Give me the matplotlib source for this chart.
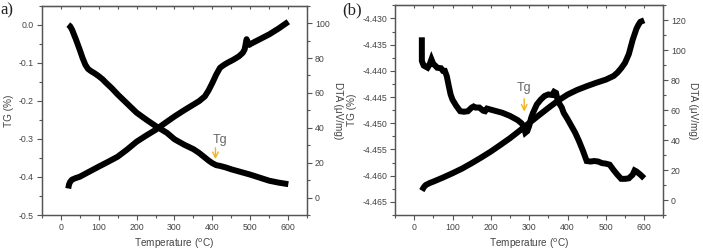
import matplotlib
matplotlib.use("Agg")
import matplotlib.pyplot as plt
from matplotlib.ticker import MultipleLocator, FormatStrFormatter

# ---------------- data ----------------
# Panel a
a_tg_T = [20, 25, 30, 40, 50, 58, 65, 72, 80, 90, 100, 110, 120, 135, 150, 175, 200, 225,
          250, 265, 280, 300, 325, 350, 365, 380, 390, 400, 410, 420, 435, 450, 475, 500,
          525, 550, 575, 600]
a_tg = [0.0, -0.004, -0.013, -0.038, -0.065, -0.088, -0.105, -0.116, -0.122, -0.128, -0.135,
        -0.143, -0.153, -0.167, -0.183, -0.207, -0.231, -0.249, -0.266, -0.275, -0.284,
        -0.301, -0.315, -0.327, -0.337, -0.349, -0.357, -0.364, -0.369, -0.371, -0.375,
        -0.380, -0.387, -0.394, -0.402, -0.410, -0.415, -0.419]
a_dta_T = [20, 22, 25, 30, 40, 50, 75, 100, 125, 150, 175, 200, 225, 250, 275, 300, 325, 350,
           365, 380, 390, 400, 410, 420, 430, 440, 455, 470, 480, 485, 488, 490, 493, 497,
           500, 525, 550, 575, 600]
a_dta = [5.2, 7.5, 9.0, 10.3, 11.2, 11.9, 14.8, 17.7, 20.5, 23.4, 27.5, 32.0, 35.5, 38.8,
         42.7, 46.5, 50.0, 53.3, 55.3, 58.0, 61.5, 65.8, 70.5, 74.4, 76.0, 77.3, 79.0, 81.0,
         83.0, 85.0, 88.5, 90.8, 89.0, 87.5, 88.0, 90.8, 93.6, 97.0, 100.8]

# Panel b
b_tg_T = [20, 20, 22, 25, 30, 35, 40, 45, 50, 55, 60, 70, 75, 80, 85, 90, 95, 100, 110, 120,
          130, 140, 150, 155, 160, 170, 180, 185, 190, 200, 215, 230, 250, 260, 270, 280,
          285, 290, 295, 300, 305, 310, 320, 330, 340, 350, 360, 365, 370, 375, 385, 390,
          400, 410, 420, 430, 440, 450, 460, 470, 480, 490, 500, 510, 520, 530, 540, 550,
          560, 570, 575, 580, 585, 590, 600]
b_tg = [-4.4336, -4.4381, -4.4385, -4.4390, -4.4392, -4.4394, -4.4388, -4.4378, -4.4387,
        -4.4390, -4.4394, -4.4395, -4.4400, -4.4400, -4.4410, -4.4428, -4.4445, -4.4455,
        -4.4467, -4.4477, -4.4478, -4.4477, -4.4470, -4.4468, -4.4470, -4.4470, -4.4476,
        -4.4477, -4.4472, -4.4474, -4.4477, -4.4480, -4.4486, -4.4490, -4.4494, -4.4500,
        -4.4505, -4.4518, -4.4515, -4.4505, -4.4490, -4.4480, -4.4464, -4.4455, -4.4448,
        -4.4445, -4.4446, -4.4440, -4.4442, -4.4458, -4.4470, -4.4480, -4.4492, -4.4505,
        -4.4518, -4.4534, -4.4552, -4.4572, -4.4573, -4.4572, -4.4573, -4.4576, -4.4577,
        -4.4579, -4.4589, -4.4598, -4.4606, -4.4606, -4.4605, -4.4598, -4.4590, -4.4592,
        -4.4595, -4.4598, -4.4605]
b_dta_T = [20, 25, 30, 40, 50, 75, 100, 125, 150, 175, 200, 225, 250, 275, 300, 325, 350,
           375, 400, 425, 450, 475, 500, 520, 530, 540, 550, 560, 570, 580, 585, 590, 600]
b_dta = [6.3, 8.5, 10.0, 11.3, 12.3, 15.0, 17.9, 21.0, 24.6, 28.4, 32.4, 36.8, 41.3, 46.3,
         51.4, 56.5, 61.5, 66.3, 70.4, 73.5, 76.0, 78.3, 80.4, 82.8, 85.0, 88.0, 91.6, 97.5,
         107.0, 114.5, 117.0, 119.0, 120.0]

x_ticks = [0, 100, 200, 300, 400, 500, 600]
panel_labels = ["a)", "(b)"]
x_label = "Temperature ($^{\\rm o}$C)"
tg_label = "TG (%)"
dta_label = "DTA (\u03bcV/mg)"

# ---------------- style ----------------
plt.rcParams['font.family'] = ['Liberation Sans', 'DejaVu Sans']
TXT = '#444444'
SP = '#555555'
LW = 4.3
ORANGE = '#f2b320'
TICKFS = 6.3
LABFS = 7.2

fig = plt.figure(figsize=(7.03, 2.52), dpi=100)

axa = fig.add_axes([0.0593, 0.1468, 0.3778, 0.8306])
axb = fig.add_axes([0.5619, 0.1468, 0.3817, 0.8320])


def style(ax, ax2, ymaj, ymin, ymaj2, ymin2, yfmt):
    for a in (ax, ax2):
        for s in a.spines.values():
            s.set_color(SP)
            s.set_linewidth(0.9)
    ax.set_xlim(-50, 650)
    ax.set_xticks(x_ticks)
    ax.xaxis.set_minor_locator(MultipleLocator(50))
    ax.yaxis.set_major_locator(MultipleLocator(ymaj))
    ax.yaxis.set_minor_locator(MultipleLocator(ymin))
    ax.yaxis.set_major_formatter(FormatStrFormatter(yfmt))
    ax2.yaxis.set_major_locator(MultipleLocator(ymaj2))
    ax2.yaxis.set_minor_locator(MultipleLocator(ymin2))
    ax.tick_params(axis='both', which='major', direction='out', length=3.5, width=0.8,
                   color=SP, labelcolor=TXT, labelsize=TICKFS, pad=2)
    ax.tick_params(axis='both', which='minor', direction='out', length=2, width=0.8, color=SP)
    ax.tick_params(axis='x', which='both', top=False)
    ax2.tick_params(axis='y', which='major', direction='out', length=3.5, width=0.8,
                    color=SP, labelcolor=TXT, labelsize=TICKFS, pad=2)
    ax2.tick_params(axis='y', which='minor', direction='out', length=2, width=0.8, color=SP)
    # top inward ticks every 50
    sec = ax.secondary_xaxis('top')
    sec.set_xticks(list(range(0, 651, 50)))
    sec.tick_params(direction='in', length=2.5, width=0.8, color=SP, labeltop=False)
    sec.set_xticklabels([])
    sec.spines['top'].set_color(SP)


# Panel a
axa2 = axa.twinx()
axa.plot(a_tg_T, a_tg, color='black', lw=LW, solid_capstyle='butt')
axa2.plot(a_dta_T, a_dta, color='black', lw=LW, solid_capstyle='butt')
axa.set_ylim(-0.5, 0.05)
axa2.set_ylim(-10, 110)
style(axa, axa2, 0.1, 0.05, 20, 10, '%.1f')
axa.set_xlabel(x_label, fontsize=LABFS, color=TXT)
axa.set_ylabel(tg_label, fontsize=LABFS, color=TXT)
axa2.set_ylabel(dta_label, fontsize=LABFS, color=TXT, rotation=270, va='bottom')
axa.xaxis.set_label_coords(0.5, -0.105)
axa.yaxis.set_label_coords(-0.106, 0.5)
axa2.yaxis.set_label_coords(1.097, 0.5)
axa.annotate('', xy=(408, -0.3605), xytext=(408, -0.316),
             arrowprops=dict(arrowstyle='->', color=ORANGE, lw=1.0))
axa.text(419, -0.311, 'Tg', color='#666666', fontsize=9, ha='center', va='baseline')

# Panel b
axb2 = axb.twinx()
axb.plot(b_tg_T, b_tg, color='black', lw=LW, solid_capstyle='butt', solid_joinstyle='miter')
axb2.plot(b_dta_T, b_dta, color='black', lw=LW, solid_capstyle='butt')
axb.set_ylim(-4.4675, -4.4275)
axb2.set_ylim(-10, 130)
style(axb, axb2, 0.005, 0.0025, 20, 10, '%.3f')
axb.set_xlabel(x_label, fontsize=LABFS, color=TXT)
axb.set_ylabel(tg_label, fontsize=LABFS, color=TXT)
axb2.set_ylabel(dta_label, fontsize=LABFS, color=TXT, rotation=270, va='bottom')
axb.xaxis.set_label_coords(0.5, -0.105)
axb.yaxis.set_label_coords(-0.142, 0.5)
axb2.yaxis.set_label_coords(1.092, 0.5)
axb.annotate('', xy=(287, -4.4483), xytext=(287, -4.4448),
             arrowprops=dict(arrowstyle='->', color=ORANGE, lw=1.0))
axb.text(286.5, -4.4439, 'Tg', color='#666666', fontsize=9, ha='center', va='baseline')

fig.text(0.0, 0.99, panel_labels[0], fontsize=12, family=['Liberation Serif', 'DejaVu Serif'],
         ha='left', va='top', color='#222222')
fig.text(0.487, 0.99, panel_labels[1], fontsize=12, family=['Liberation Serif', 'DejaVu Serif'],
         ha='left', va='top', color='#222222')

fig.savefig('out.png', dpi=100)
